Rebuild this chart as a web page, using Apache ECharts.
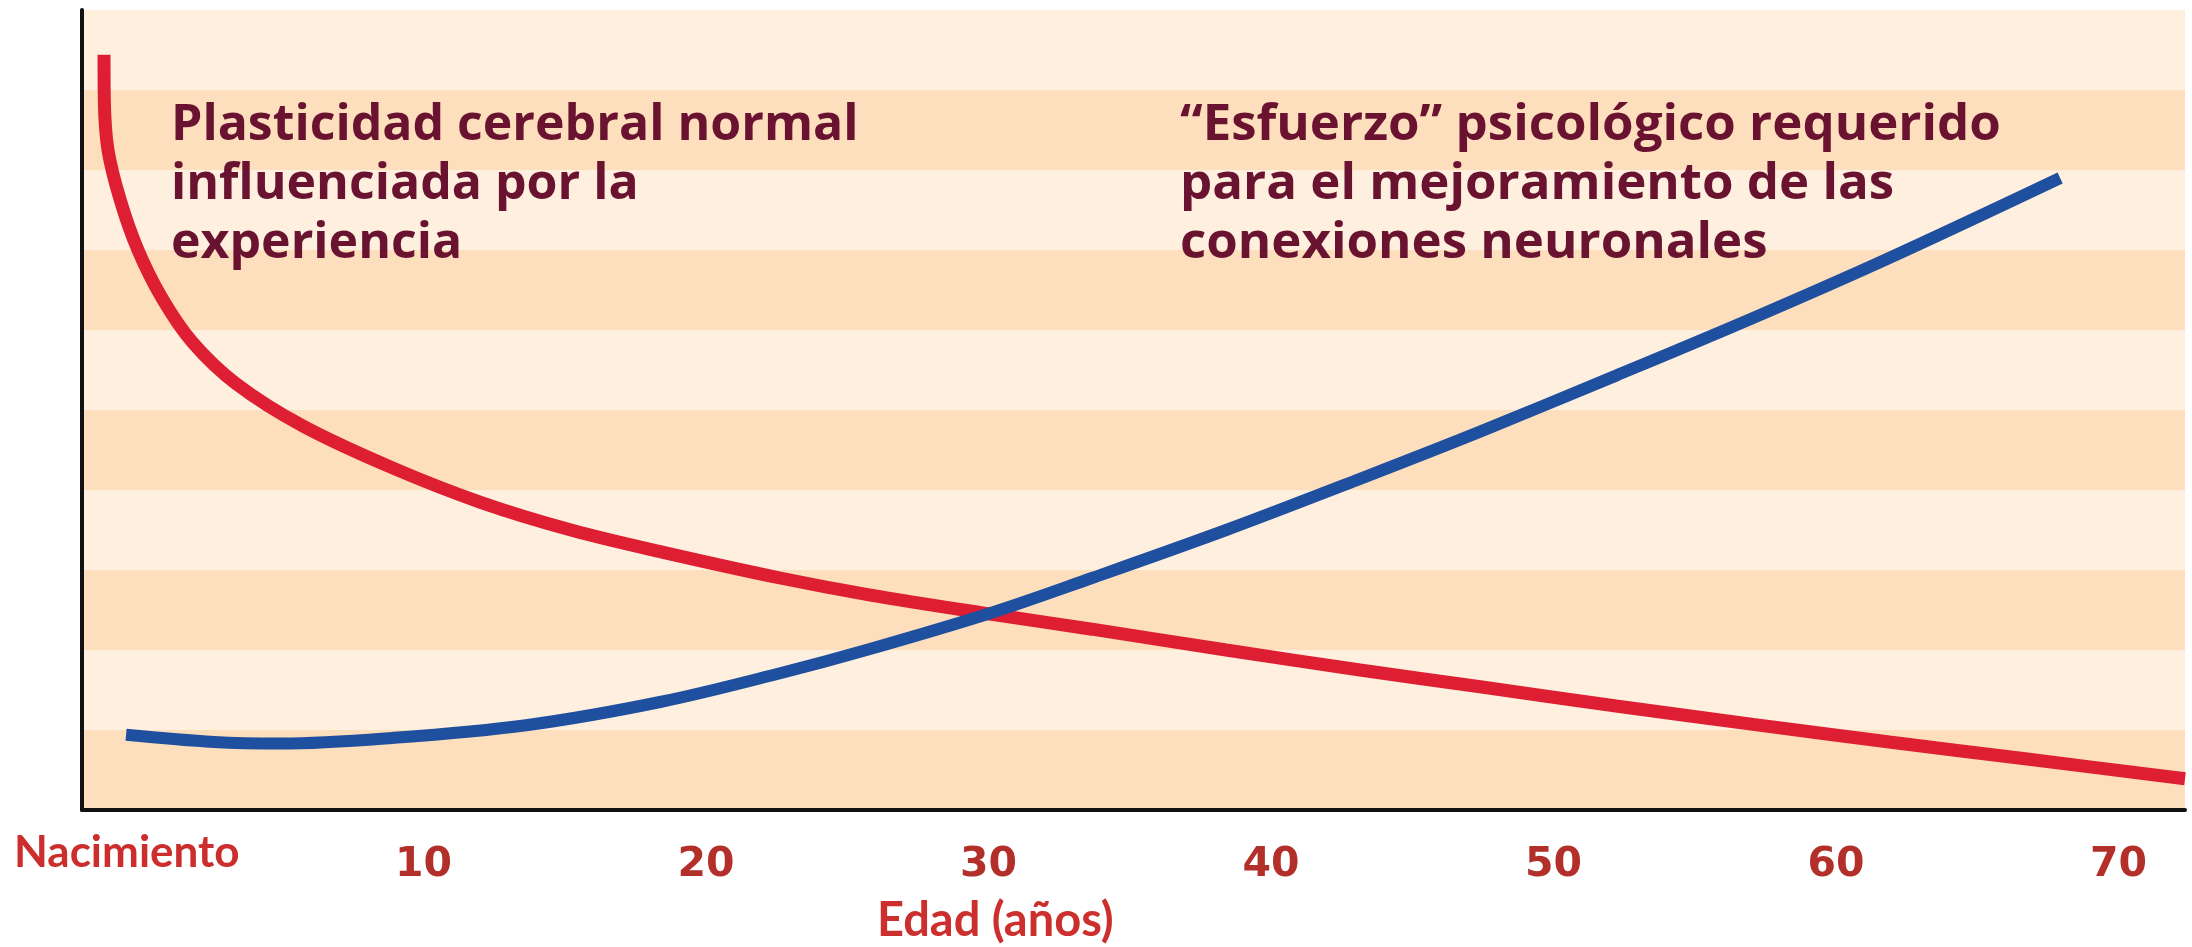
<!DOCTYPE html>
<html>
<head>
<meta charset="utf-8">
<title>Plasticidad cerebral</title>
<script src="https://cdn.jsdelivr.net/npm/echarts@6/dist/echarts.min.js"></script>
<style>
  html, body { margin: 0; padding: 0; background: #fff; }
  #chart { width: 2192px; height: 947px; }
</style>
</head>
<body>
<div id="chart"></div>
<script>
// valores (x = edad en años, y = nivel relativo 0-10)
var plasticidadEdad = [-1.31, -1.3, -1.17, -0.74, -0.11, 0.74, 1.81, 3.36, 5.73, 8.88, 12.07, 15.22, 18.37, 22.62, 25.77, 30.05, 33.66, 38.41, 43.15, 47.4, 52.21, 57.06, 61.88, 66.69, 72.35];
var plasticidadValor = [9.44, 8.88, 8.25, 7.63, 7.0, 6.4, 5.85, 5.33, 4.8, 4.28, 3.84, 3.5, 3.23, 2.9, 2.69, 2.45, 2.26, 2.0, 1.75, 1.54, 1.3, 1.07, 0.85, 0.64, 0.39];
var esfuerzoEdad = [-0.53, 2.58, 4.96, 8.88, 13.63, 18.37, 22.62, 25.77, 30.05, 33.66, 38.41, 43.15, 47.4, 52.21, 57.06, 61.88, 67.93];
var esfuerzoValor = [0.94, 0.85, 0.83, 0.9, 1.06, 1.35, 1.71, 2.01, 2.46, 2.9, 3.5, 4.14, 4.73, 5.43, 6.15, 6.9, 7.9];
var etiquetasEdad = [10, 20, 30, 40, 50, 60, 70];
var textoPlasticidad = 'Plasticidad cerebral normal\ninfluenciada por la\nexperiencia';
var textoEsfuerzo = '“Esfuerzo” psicológico requerido\npara el mejoramiento de las\nconexiones neuronales';

function pares (xs, ys) {
  var out = [];
  for (var i = 0; i < xs.length; i++) {
    out.push([xs[i], ys[i]]);
  }
  return out;
}

var chart = echarts.init(document.getElementById('chart'));

chart.setOption({
  backgroundColor: '#ffffff',
  animation: false,
  grid: {
    left: 82,
    right: 7,
    top: 10,
    bottom: 137
  },
  xAxis: {
    type: 'value',
    min: -2.09,
    max: 72.35,
    axisLine: {
      show: true,
      onZero: false,
      lineStyle: { color: '#111', width: 4 }
    },
    axisTick: { show: false },
    splitLine: { show: false },
    axisLabel: {
      customValues: etiquetasEdad,
      margin: 35,
      color: '#b3302a',
      fontFamily: 'DejaVu Sans',
      fontWeight: 'bold',
      fontSize: 41
    }
  },
  yAxis: {
    type: 'value',
    min: 0,
    max: 10,
    interval: 1,
    axisLine: {
      show: true,
      onZero: false,
      lineStyle: { color: '#111', width: 4 }
    },
    axisTick: { show: false },
    axisLabel: { show: false },
    splitLine: { show: false },
    splitArea: {
      show: true,
      areaStyle: { color: ['#fddfbe', '#feefde'] }
    }
  },
  graphic: [
    {
      type: 'text',
      z: 100,
      left: 171,
      top: 96,
      style: {
        text: textoPlasticidad,
        fill: '#6a1330',
        fontFamily: 'Open Sans',
        fontWeight: 'bold',
        fontSize: 50,
        lineHeight: 59
      }
    },
    {
      type: 'text',
      z: 100,
      left: 1180,
      top: 96,
      style: {
        text: textoEsfuerzo,
        fill: '#6a1330',
        fontFamily: 'Open Sans',
        fontWeight: 'bold',
        fontSize: 51,
        lineHeight: 59
      }
    },
    {
      type: 'text',
      z: 100,
      left: 14,
      top: 831,
      style: {
        text: 'Nacimiento',
        fill: '#cc2e2e',
        fontFamily: 'Lato',
        fontWeight: 'bold',
        fontSize: 44
      }
    },
    {
      type: 'text',
      z: 100,
      left: 877,
      top: 897,
      style: {
        text: 'Edad (años)',
        fill: '#cc302e',
        fontFamily: 'Lato',
        fontWeight: 'bold',
        fontSize: 47
      }
    }
  ],
  series: [
    {
      name: 'Plasticidad cerebral',
      type: 'line',
      data: pares(plasticidadEdad, plasticidadValor),
      smooth: 0.35,
      symbol: 'none',
      clip: true,
      lineStyle: { color: '#de1e32', width: 13, cap: 'butt' }
    },
    {
      name: 'Esfuerzo psicológico',
      type: 'line',
      data: pares(esfuerzoEdad, esfuerzoValor),
      smooth: 0.35,
      symbol: 'none',
      clip: true,
      lineStyle: { color: '#1f4f9f', width: 12, cap: 'butt' }
    }
  ]
});

window.onresize = function () {
  chart.resize();
};
</script>
</body>
</html>
